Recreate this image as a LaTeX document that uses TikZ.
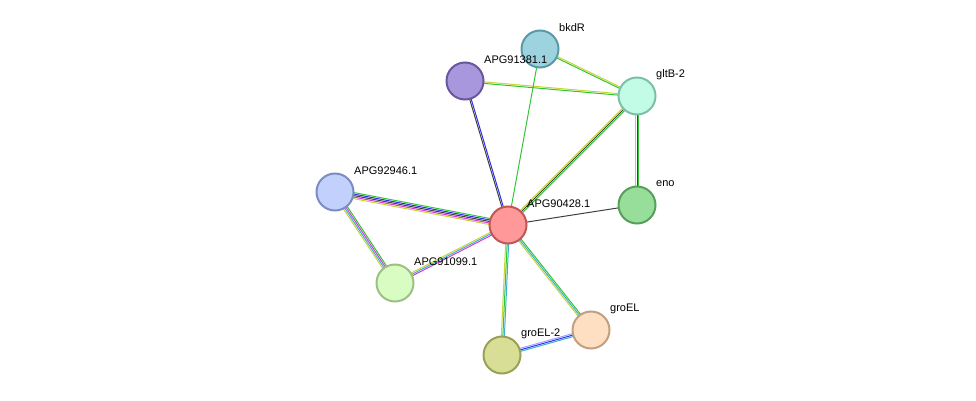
\documentclass[tikz,border=0pt]{standalone}
\usepackage{fontspec}
\setmainfont{Liberation Sans}
\usetikzlibrary{calc,positioning}
\pgfdeclarelayer{bg}
\pgfsetlayers{bg,main}
\definecolor{lgreen}{HTML}{33C433}
\definecolor{lyellow}{HTML}{C6D534}
\definecolor{lmag}{HTML}{D838D8}
\definecolor{lcyan}{HTML}{3AB0D4}
\definecolor{lblue}{HTML}{2E2EEE}
\definecolor{lgray}{HTML}{404040}
\definecolor{lviol}{HTML}{A0A0FF}
\tikzset{
  prot/.style 2 args={circle,minimum size=37pt,inner sep=0pt,line width=2pt,
    /utils/exec={\definecolor{pf}{HTML}{#1}\definecolor{pd}{HTML}{#2}},fill=pf,draw=pd},
  lbl/.style={font=\fontsize{11}{13}\selectfont,anchor=west,inner sep=0pt},
  ln/.style={line width=1pt}
}
% #1,#2 nodes; #3 list of offset/colour
\newcommand\plink[3]{%
  \foreach \o/\col in {#3} {
    \draw[ln,\col] ($(#1)!\o*1.5pt!90:(#2)$) -- ($(#2)!\o*1.5pt!-90:(#1)$);
  }}
\begin{document}
\begin{tikzpicture}[x=1pt,y=-1pt]
\useasboundingbox (0,0) rectangle (976,401);
% proteins
\node[prot={9DD3DF}{5B98A8}] (bkdR) at (540,49) {};
\node[prot={A997DE}{6A56A0}] (a81) at (465,81) {};
\node[prot={C2FCE6}{7CC0A6}] (gltB) at (637,96) {};
\node[prot={C1D1FC}{7B8CC4}] (a46) at (335,192) {};
\node[prot={FF9898}{C25555}] (a28) at (508,225) {};
\node[prot={98DE9B}{589E5B}] (eno) at (637,205) {};
\node[prot={D9FCC2}{9BC082}] (a99) at (395,283) {};
\node[prot={FFDFC1}{C0A080}] (groEL) at (591,330) {};
\node[prot={D9DE96}{9AA058}] (groEL2) at (502,355) {};
% labels
\foreach \n/\t in {bkdR/bkdR,a81/APG91381.1,gltB/gltB-2,a46/APG92946.1,a28/APG90428.1,eno/eno,a99/APG91099.1,groEL/groEL,groEL2/groEL-2}
  \node[lbl] (l-\n) at ([shift={(19pt,21pt)}]\n.center) {\t};
% links
\begin{pgfonlayer}{bg}
\plink{bkdR}{gltB}{-0.5/lgreen,0.5/lyellow}
\plink{a81}{gltB}{-0.5/lgreen,0.5/lyellow}
\plink{bkdR}{a28}{0/lgreen}
\plink{a81}{a28}{-0.5/lgray,0.5/lblue}
\plink{gltB}{a28}{-1/lyellow,0/lgray,1/lgreen}
\plink{gltB}{eno}{-1/lyellow,0/lgray,1/lgreen}
\plink{eno}{a28}{0/lgray}
\plink{a46}{a28}{-2/lyellow,-1/lmag,0/lgray,1/lblue,2/lgreen}
\plink{a46}{a99}{-1.5/lyellow,-0.5/lcyan,0.5/lmag,1.5/lgreen}
\plink{a99}{a28}{-1/lmag,0/lcyan,1/lyellow}
\plink{a28}{groEL2}{-1/lyellow,0/lgreen,1/lcyan}
\plink{a28}{groEL}{-1/lyellow,0/lcyan,1/lgreen}
\plink{groEL2}{groEL}{-1/lcyan,0/lblue,1/lviol}
\end{pgfonlayer}
\end{tikzpicture}
\end{document}
